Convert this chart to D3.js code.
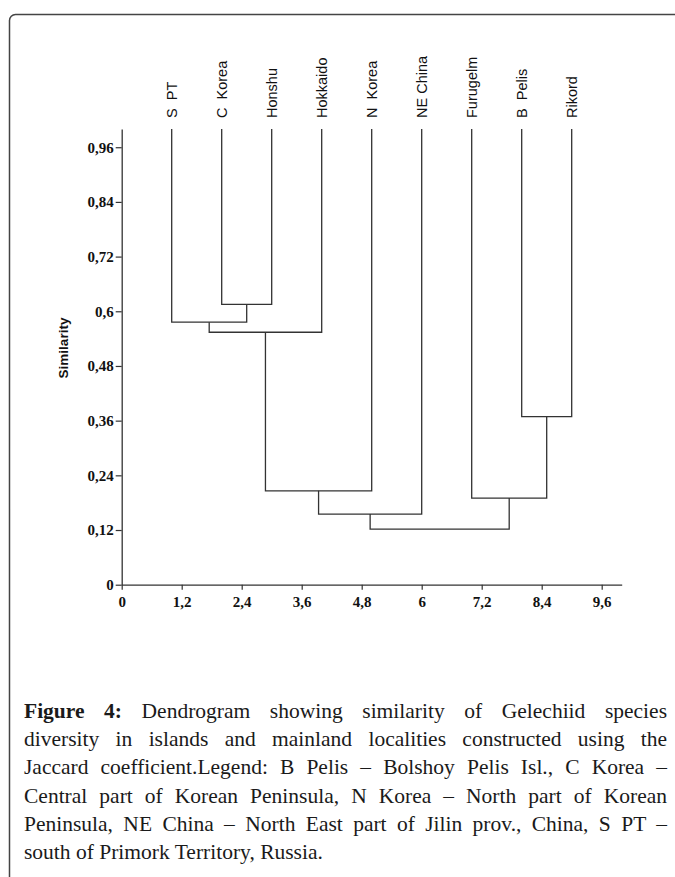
<!DOCTYPE html>
<html>
<head>
<meta charset="utf-8">
<script src="https://cdn.jsdelivr.net/npm/d3@7"></script>
<style>
  html, body { margin: 0; padding: 0; background: #fff; }
  body { width: 675px; height: 877px; position: relative; overflow: hidden; }
  svg { position: absolute; left: 0; top: 0; }
  .caption-line {
    position: absolute;
    left: 24px;
    width: 643px;
    font-family: "Liberation Serif", "Times New Roman", serif;
    font-size: 21.5px;
    line-height: 28.3px;
    color: #1a1a1a;
    white-space: nowrap;
    text-align: justify;
    text-align-last: justify;
  }
  .caption-line.last { text-align-last: left; }
  .caption-line b { font-weight: bold; }
</style>
</head>
<body>
<svg id="chart" width="675" height="877"></svg>
<div id="caption"></div>
<script>
// leaves, left to right as drawn
const leafNames = ["S  PT", "C  Korea", "Honshu", "Hokkaido", "N  Korea", "NE China", "Furugelm", "B  Pelis", "Rikord"];
const leafSimilarity = 1.0;

// merges in order, "mN" refers to merge N
const mergePairs = [
    ["C  Korea", "Honshu"],
    ["S  PT", "m0"],
    ["m1", "Hokkaido"],
    ["m2", "N  Korea"],
    ["m3", "NE China"],
    ["B  Pelis", "Rikord"],
    ["Furugelm", "m5"],
    ["m4", "m6"]
];
const mergeSimilarity = [0.615, 0.576, 0.554, 0.206, 0.155, 0.369, 0.190, 0.122];

const xTicks = [0, 1.2, 2.4, 3.6, 4.8, 6, 7.2, 8.4, 9.6];
const xTickLabels = ["0", "1,2", "2,4", "3,6", "4,8", "6", "7,2", "8,4", "9,6"];
const yTicks = [0, 0.12, 0.24, 0.36, 0.48, 0.6, 0.72, 0.84, 0.96];
const yTickLabels = ["0", "0,12", "0,24", "0,36", "0,48", "0,6", "0,72", "0,84", "0,96"];

const captionLines = [
    "Dendrogram showing similarity of Gelechiid species",
    "diversity in islands and mainland localities constructed using the",
    "Jaccard coefficient.Legend: B Pelis \u2013 Bolshoy Pelis Isl., C Korea \u2013",
    "Central part of Korean Peninsula, N Korea \u2013 North part of Korean",
    "Peninsula, NE China \u2013 North East part of Jilin prov., China, S PT \u2013",
    "south of Primork Territory, Russia."
];

const lineColor = "#333";

const svg = d3.select("#chart");

// frame round the figure, runs off right and bottom
svg.append("rect")
    .attr("x", 9.5)
    .attr("y", 14.5)
    .attr("width", 720)
    .attr("height", 920)
    .attr("rx", 6)
    .attr("fill", "none")
    .attr("stroke", "#444")
    .attr("stroke-width", 1.5);

// scales
const x = d3.scaleLinear().domain([0, 10]).range([121.7, 621.7]);
const y = d3.scaleLinear().domain([0, 1]).range([584.7, 129]);

// build the tree from the merge table
const nodes = {};
leafNames.forEach((name, i) => {
    nodes[name] = { name: name, sim: leafSimilarity, order: i + 1 };
});
mergePairs.forEach((pair, i) => {
    nodes["m" + i] = {
        name: "m" + i,
        sim: mergeSimilarity[i],
        children: pair.map(p => nodes[p])
    };
});
const root = d3.hierarchy(nodes["m" + (mergePairs.length - 1)]);

// leaves sit at 1..9, each join sits half way between its two branches
root.eachAfter(d => {
    if (d.children) {
        d.xv = d3.mean(d.children, c => c.xv);
    } else {
        d.xv = d.data.order;
    }
});

// elbow links
const g = svg.append("g");
root.descendants().filter(d => d.children).forEach(d => {
    const [a, b] = d.children;
    const p = d3.path();
    p.moveTo(x(a.xv), y(a.data.sim));
    p.lineTo(x(a.xv), y(d.data.sim));
    p.lineTo(x(b.xv), y(d.data.sim));
    p.lineTo(x(b.xv), y(b.data.sim));
    g.append("path")
        .attr("d", p.toString())
        .attr("fill", "none")
        .attr("stroke", lineColor)
        .attr("stroke-width", 1.3);
});

// leaf labels, rotated
svg.selectAll(".leaf-label")
    .data(root.leaves())
    .enter()
    .append("text")
    .attr("class", "leaf-label")
    .attr("transform", d => `translate(${x(d.xv) + 5},118) rotate(-90)`)
    .style("white-space", "pre")
    .attr("font-family", "'Liberation Sans', Arial, sans-serif")
    .attr("font-size", 14.5)
    .attr("fill", "#111")
    .text(d => d.data.name);

// axes
const yAxis = d3.axisLeft(y)
    .tickValues(yTicks)
    .tickFormat((d, i) => yTickLabels[i])
    .tickSize(6)
    .tickSizeOuter(0)
    .tickPadding(2);

const xAxis = d3.axisBottom(x)
    .tickValues(xTicks)
    .tickFormat((d, i) => xTickLabels[i])
    .tickSize(5)
    .tickSizeOuter(0)
    .tickPadding(7);

const gy = svg.append("g")
    .attr("transform", `translate(${x(0)},0)`)
    .call(yAxis);

const gx = svg.append("g")
    .attr("transform", `translate(0,${y(0)})`)
    .call(xAxis);

[gx, gy].forEach(ax => {
    ax.select(".domain").attr("stroke", lineColor).attr("stroke-width", 1.3);
    ax.selectAll(".tick line").attr("stroke", lineColor).attr("stroke-width", 1.2);
    ax.selectAll(".tick text")
        .attr("font-family", "'Liberation Serif', 'Times New Roman', serif")
        .attr("font-weight", "bold")
        .attr("font-size", 15)
        .attr("fill", "#111");
});

// y axis title
svg.append("text")
    .attr("transform", "translate(68,348) rotate(-90)")
    .attr("text-anchor", "middle")
    .attr("font-family", "'Liberation Sans', Arial, sans-serif")
    .attr("font-weight", "bold")
    .attr("font-size", 13.5)
    .attr("fill", "#111")
    .text("Similarity");

// caption
const caption = d3.select("#caption");
captionLines.forEach((line, i) => {
    const div = caption.append("div")
        .attr("class", "caption-line" + (i === captionLines.length - 1 ? " last" : ""))
        .style("top", (696.6 + i * 28.3) + "px");
    if (i === 0) {
        div.append("b").text("Figure 4:");
        div.append("span").text(" " + line);
    } else {
        div.text(line);
    }
});
</script>
</body>
</html>
